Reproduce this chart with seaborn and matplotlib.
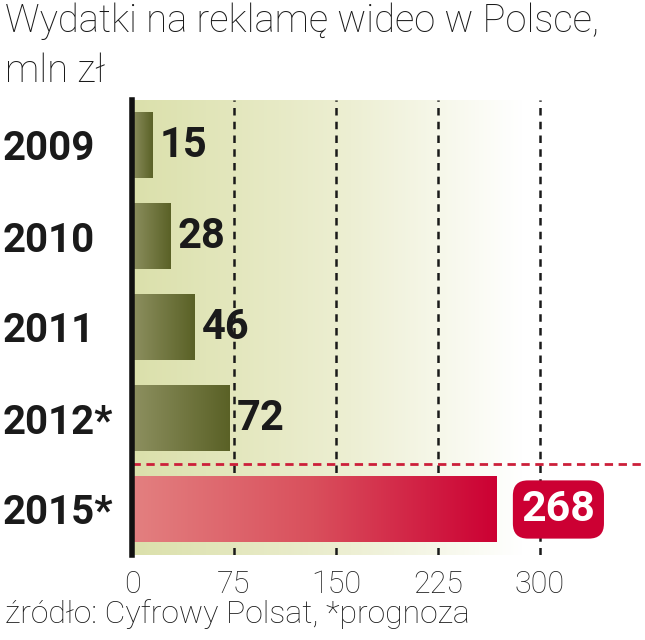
import numpy as np
import pandas as pd
import matplotlib
matplotlib.use("Agg")
import matplotlib.pyplot as plt
from matplotlib.colors import LinearSegmentedColormap
import seaborn as sns

years = ["2009", "2010", "2011", "2012*", "2015*"]
values = [15, 28, 46, 72, 268]
xticks = [0, 75, 150, 225, 300]
title = "Wydatki na reklamę wideo w Polsce,\nmln zł"
source = "źródło: Cyfrowy Polsat, *prognoza"

sns.set_theme(style="white")
plt.rcParams["font.family"] = ["Roboto", "DejaVu Sans"]

df = pd.DataFrame({"rok": years, "wydatki": values})

fig = plt.figure(figsize=(6.45, 6.40), dpi=100)
ax = fig.add_axes([132 / 645, 1 - 555 / 640, (620 - 132) / 645, 455 / 640])

sns.barplot(data=df, x="wydatki", y="rok", orient="h", width=0.72,
            color="#6b7135", ax=ax, zorder=3)

xmax = (620 - 132) / 1.36
ax.set_xlim(0, xmax)
ax.set_ylim(4.5, -0.5)

# background gradient, fading to white on the right
bg_cmap = LinearSegmentedColormap.from_list(
    "bg", [(0, "#dbe0ab"), (0.45, "#edefd3"), (0.8, "#ffffff"), (1, "#ffffff")])
grad = np.linspace(0, 1, 256).reshape(1, -1)
ax.imshow(grad, extent=[0, xmax, 4.5, -0.5], aspect="auto", cmap=bg_cmap, zorder=0)

olive = LinearSegmentedColormap.from_list("olive", ["#8d9060", "#5a6126"])
red = LinearSegmentedColormap.from_list("red", ["#e38080", "#d94f5c", "#cc0033"])
for i, p in enumerate(ax.patches):
    x0, y0, w, h = p.get_x(), p.get_y(), p.get_width(), p.get_height()
    cm = red if i == len(values) - 1 else olive
    ax.imshow(grad, extent=[x0, x0 + w, y0 + h, y0], aspect="auto", cmap=cm, zorder=3)
    p.set_visible(False)

ax.set_xlim(0, xmax)
ax.set_ylim(4.5, -0.5)

for x in xticks[1:]:
    ax.axvline(x, color="#1a1a1a", lw=1.8, ls=(0, (3, 2.5)), zorder=2)

ax.axhline(3.5, color="#cc1f3a", lw=2, ls=(0, (3, 2)), zorder=4,
           xmax=1.1, clip_on=False)

for i, v in enumerate(values):
    if i == len(values) - 1:
        ax.annotate(str(v), (v, i), xytext=(18, 0), textcoords="offset points",
                    ha="left", va="center", fontsize=31, fontweight="bold",
                    color="white", zorder=5,
                    bbox=dict(boxstyle="round,pad=0.2,rounding_size=0.35",
                              fc="#cc0033", ec="none"))
    else:
        ax.annotate(str(v), (v, i), xytext=(5, 0), textcoords="offset points",
                    ha="left", va="center", fontsize=30, fontweight="bold",
                    color="#1a1a1a", zorder=5)

for s in ["top", "right", "bottom"]:
    ax.spines[s].set_visible(False)
ax.spines["left"].set_linewidth(4)
ax.spines["left"].set_color("#111111")
ax.spines["left"].set_zorder(6)

ax.set_xticks(xticks)
ax.set_xticklabels([str(t) for t in xticks], fontsize=22, fontweight="light",
                   color="#222222")
ax.tick_params(axis="x", length=0, pad=11)
ax.set_yticks(range(len(years)))
ax.set_yticklabels(years, fontsize=29, fontweight="bold", color="#1a1a1a", ha="left")
ax.tick_params(axis="y", length=0, pad=129 * 0.72)
ax.set_xlabel("")
ax.set_ylabel("")

fig.text(5 / 645, 1 - 3 / 640, title, ha="left", va="top", fontsize=27.5,
         fontweight="light", color="#1a1a1a", linespacing=1.4)
fig.text(5 / 645, 1 - 614 / 640, source, ha="left", va="center", fontsize=23,
         fontweight="light", color="#1a1a1a")

fig.savefig("out.png", dpi=100, facecolor="white")
